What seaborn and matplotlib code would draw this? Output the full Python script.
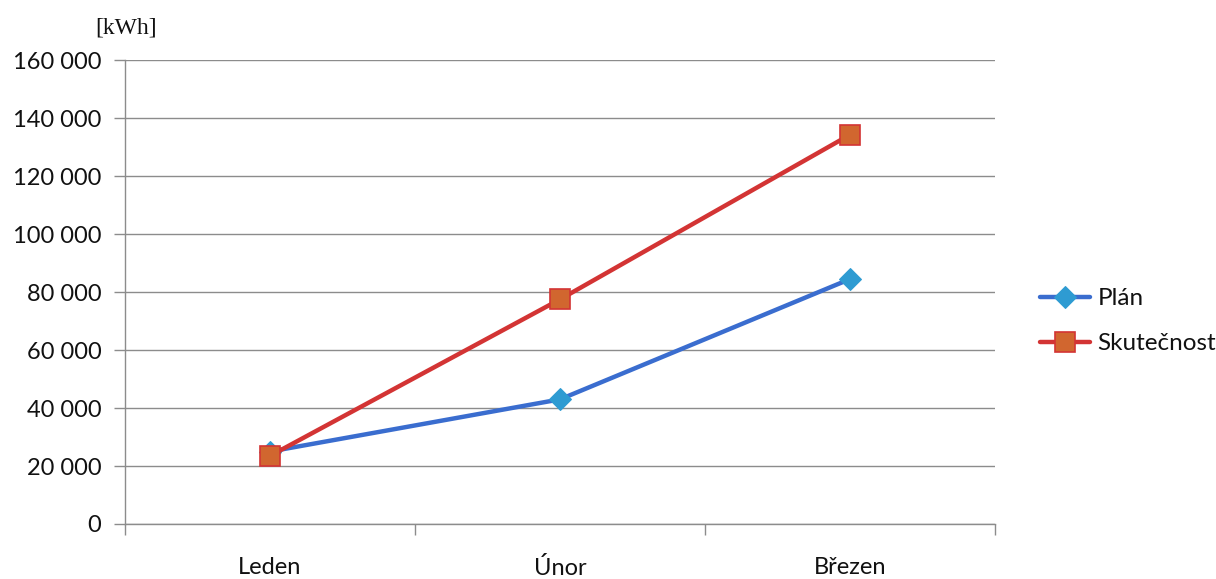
import matplotlib
matplotlib.use("Agg")
import matplotlib.pyplot as plt
import seaborn as sns
import pandas as pd
from matplotlib.ticker import FixedLocator, FuncFormatter

months = ["Leden", "Únor", "Březen"]
plan = [25000, 43000, 84500]
skutecnost = [23500, 77500, 134300]
y_ticks = [0, 20000, 40000, 60000, 80000, 100000, 120000, 140000, 160000]

sns.set_theme(style="white")
plt.rcParams["font.family"] = ["Lato", "DejaVu Sans"]

fig = plt.figure(figsize=(12.16, 5.79), dpi=100)
ax = fig.add_axes([0.1028, 0.095, 0.7155, 0.801])

df_plan = pd.DataFrame({"Měsíc": months, "kWh": plan})
df_skut = pd.DataFrame({"Měsíc": months, "kWh": skutecnost})

sns.lineplot(data=df_plan, x="Měsíc", y="kWh", ax=ax, color="#3A6DCF",
             linewidth=3.2, marker="D", markersize=11,
             markerfacecolor="#2E9BD2", markeredgecolor="#2E9BD2",
             label="Plán", zorder=3)
sns.lineplot(data=df_skut, x="Měsíc", y="kWh", ax=ax, color="#D33434",
             linewidth=3.2, marker="s", markersize=14,
             markerfacecolor="#D1662F", markeredgecolor="#D33434",
             markeredgewidth=1.2, label="Skutečnost", zorder=4)

ax.set_xlim(-0.5, 2.5)
ax.set_ylim(0, 160000)

# y axis: gridlines with space-separated thousands
ax.yaxis.set_major_locator(FixedLocator(y_ticks))
ax.yaxis.set_major_formatter(FuncFormatter(lambda v, p: f"{int(v):,}".replace(",", " ")))
ax.grid(axis="y", color="#8C8C8C", linewidth=1.0)
ax.set_axisbelow(True)

# x axis: tick marks between categories, labels centred on categories
ax.xaxis.set_major_locator(FixedLocator([-0.5, 0.5, 1.5, 2.5]))
ax.xaxis.set_minor_locator(FixedLocator([0, 1, 2]))
ax.set_xticklabels(["", "", "", ""])
ax.set_xticklabels(months, minor=True)
ax.tick_params(axis="x", which="major", length=8, width=1, color="#8C8C8C",
               direction="out", bottom=True)
ax.tick_params(axis="x", which="minor", length=0, pad=24, labelsize=17,
               labelcolor="#111111")
ax.tick_params(axis="y", which="major", length=8, width=1, color="#8C8C8C",
               direction="out", left=True, pad=9, labelsize=17,
               labelcolor="#111111")

for side in ["top", "right"]:
    ax.spines[side].set_visible(False)
for side in ["left", "bottom"]:
    ax.spines[side].set_color("#8C8C8C")
    ax.spines[side].set_linewidth(1.0)

ax.set_xlabel("")
ax.set_ylabel("")

fig.text(0.078, 0.951, "[kWh]", fontsize=17, family=["Liberation Serif"],
         color="#111111", ha="left", va="center")

leg = ax.legend(loc="center left", bbox_to_anchor=(1.027, 0.437), frameon=False,
                fontsize=17.5, handlelength=2.05, handletextpad=0.3,
                labelspacing=1.0)
for t in leg.get_texts():
    t.set_color("#111111")

fig.savefig("out.png", dpi=100)
